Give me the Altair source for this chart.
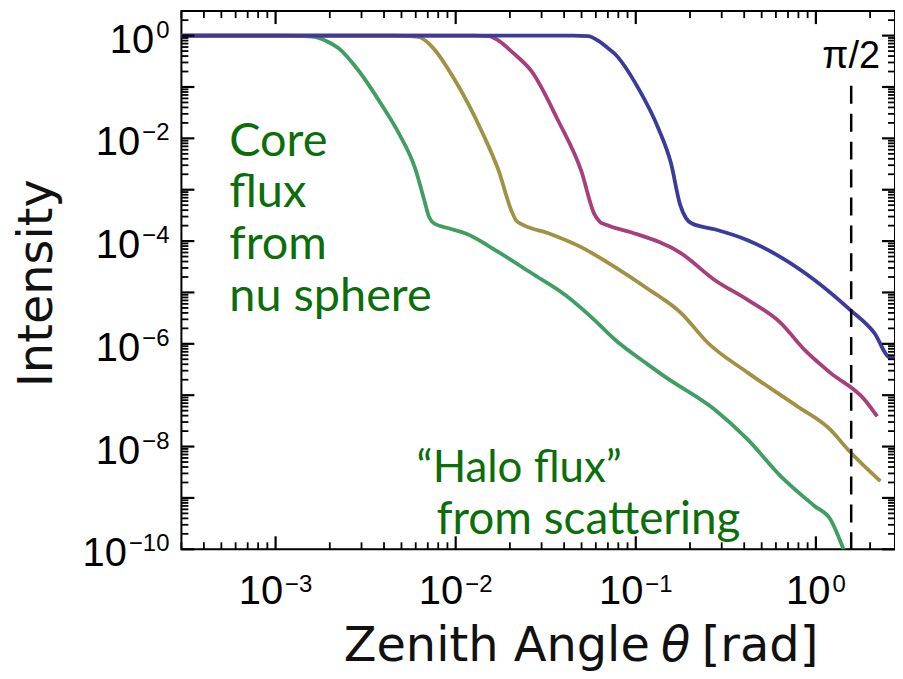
import math
import altair as alt
import pandas as pd

# ---------------- data ----------------
series_names = ["green", "gold", "magenta", "blue"]
series_colors = ["#3f9f63", "#a09243", "#a63f7a", "#3b3b9d"]

green_theta = [3.0e-4, 1.10e-3, 1.35e-3, 1.67e-3, 1.92e-3, 2.24e-3, 2.90e-3, 3.88e-3, 4.82e-3,
               5.98e-3, 6.70e-3, 7.10e-3, 7.60e-3, 9.12e-3, 1.13e-2, 1.73e-2, 2.63e-2, 4.06e-2,
               5.65e-2, 7.67e-2, 0.117, 0.145, 0.274, 0.418, 0.637, 0.982, 1.20, 1.44]
green_I = [1.0, 1.0, 0.99, 0.935, 0.78, 0.57, 0.205, 0.045, 1.28e-2,
           2.5e-3, 6.2e-4, 3.0e-4, 2.2e-4, 1.78e-4, 1.42e-4, 6.1e-5, 2.39e-5, 8.95e-6,
           3.35e-6, 1.20e-6, 3.94e-7, 2.30e-7, 5.28e-8, 1.38e-8, 2.66e-9, 6.97e-10, 3.90e-10, 9.0e-11]

gold_theta = [3.0e-4, 4.6e-3, 5.48e-3, 6.3e-3, 7.35e-3, 9.97e-3, 1.39e-2, 1.73e-2, 2.04e-2,
              2.17e-2, 2.35e-2, 3.27e-2, 4.97e-2, 7.67e-2, 0.117, 0.178, 0.251, 0.418, 0.791,
              1.20, 1.50, 2.28]
gold_I = [1.0, 1.0, 0.98, 0.93, 0.62, 0.131, 1.41e-2, 2.37e-3, 3.9e-4,
          2.5e-4, 2.1e-4, 1.42e-4, 7.62e-5, 3.12e-5, 1.17e-5, 4.01e-6, 1.05e-6, 2.75e-7, 6.04e-8,
          2.16e-8, 8.87e-9, 2.13e-9]

magenta_theta = [3.0e-4, 1.25e-2, 1.53e-2, 1.73e-2, 2.1e-2, 2.63e-2, 3.71e-2, 4.97e-2, 5.90e-2,
                 6.30e-2, 6.90e-2, 9.40e-2, 0.178, 0.274, 0.418, 0.637, 0.863, 1.20, 1.86, 2.19]
magenta_I = [1.0, 1.0, 0.98, 0.80, 0.45, 0.205, 2.20e-2, 2.37e-3, 3.3e-4,
             2.4e-4, 2.05e-4, 1.49e-4, 5.83e-5, 1.75e-5, 7.16e-6, 2.56e-6, 7.69e-7, 2.75e-7,
             8.26e-8, 3.86e-8]

blue_theta = [3.0e-4, 4.5e-2, 5.43e-2, 6.18e-2, 6.8e-2, 7.67e-2, 0.103, 0.133, 0.157,
              0.176, 0.190, 0.205, 0.274, 0.418, 0.637, 0.982, 1.55, 2.11, 2.59, 2.75]
blue_I = [1.0, 1.0, 0.98, 0.80, 0.62, 0.438, 9.61e-2, 1.61e-2, 3.23e-3,
          5.2e-4, 2.8e-4, 2.2e-4, 1.70e-4, 1.04e-4, 4.88e-5, 1.75e-5, 4.58e-6, 1.64e-6,
          5.38e-7, 5.38e-7]

x_label_exps = ["−3", "−2", "−1", "0"]
x_label_vals = [1e-3, 1e-2, 1e-1, 1e0]
y_label_exps = ["0", "−2", "−4", "−6", "−8", "−10"]
y_label_vals = [1e0, 1e-2, 1e-4, 1e-6, 1e-8, 1e-10]

x_major = [1e-3, 1e-2, 1e-1, 1e0]
x_minor = [k * 10.0 ** e for e in range(-4, 1) for k in range(2, 10) if 3e-4 <= k * 10.0 ** e <= 2.75]
y_major = [10.0 ** e for e in range(-10, 1)]
y_minor = [k * 10.0 ** e for e in range(-10, 1) for k in range(2, 10) if k * 10.0 ** e <= 3]

half_pi = math.pi / 2

# ---------------- chart ----------------
W, H = 716, 540
FONT = "Liberation Sans"
TFONT = "DejaVu Sans"
ANN = "Lato"
ANN_COLOR = "#0b6e0b"

rows = []
for name, th, iv in zip(series_names,
                        [green_theta, gold_theta, magenta_theta, blue_theta],
                        [green_I, gold_I, magenta_I, blue_I]):
    for t, v in zip(th, iv):
        rows.append({"series": name, "theta": t, "I": v})
df = pd.DataFrame(rows)

xscale = alt.Scale(type="log", domain=[3e-4, 2.75], nice=False)
yscale = alt.Scale(type="log", domain=[1e-10, 3], nice=False)

lines = alt.Chart(df).mark_line(strokeWidth=3.8, clip=True, interpolate="monotone").encode(
    x=alt.X("theta:Q", scale=xscale, axis=None),
    y=alt.Y("I:Q", scale=yscale, axis=None),
    color=alt.Color("series:N", scale=alt.Scale(domain=series_names, range=series_colors), legend=None),
)


def xticks(vals, y0, y1, sw):
    return alt.Chart(pd.DataFrame({"v": vals})).mark_rule(color="black", strokeWidth=sw).encode(
        x=alt.X("v:Q", scale=xscale, axis=None), y=alt.value(y0), y2=alt.value(y1))


def yticks(vals, x0, x1, sw):
    return alt.Chart(pd.DataFrame({"v": vals})).mark_rule(color="black", strokeWidth=sw).encode(
        y=alt.Y("v:Q", scale=yscale, axis=None), x=alt.value(x0), x2=alt.value(x1))


MAJ, MIN = 13, 7
ticks = [
    xticks(x_major, H, H - MAJ, 2.2), xticks(x_minor, H, H - MIN, 1.8),
    xticks(x_major, 0, MAJ, 2.2), xticks(x_minor, 0, MIN, 1.8),
    yticks(y_major, 0, MAJ, 2.2), yticks(y_minor, 0, MIN, 1.8),
    yticks(y_major, W, W - MAJ, 2.2), yticks(y_minor, W, W - MIN, 1.8),
]

# tick labels "10" + superscript exponent
BASE_FS, EXP_FS = 40, 24
base_w = 0.556 * 2 * BASE_FS


def exp_width(s):
    return sum(0.584 * EXP_FS if ch == "−" else 0.556 * EXP_FS for ch in s)


xl = pd.DataFrame({"v": x_label_vals, "exp": x_label_exps})
xlab_layers = []
for e in sorted(set(x_label_exps)):
    ew = exp_width(e)
    total = base_w + 2 + ew
    dxb = total / 2 - ew - 2
    sub = alt.Chart(xl).transform_filter(alt.datum.exp == e)
    xlab_layers.append(sub.mark_text(text="10", font=FONT, fontSize=BASE_FS, align="right",
                                     baseline="alphabetic", dx=dxb, color="black").encode(
        x=alt.X("v:Q", scale=xscale, axis=None), y=alt.value(H + 55)))
    xlab_layers.append(sub.mark_text(font=FONT, fontSize=EXP_FS, align="left",
                                     baseline="alphabetic", dx=dxb + 2, color="black").encode(
        x=alt.X("v:Q", scale=xscale, axis=None), y=alt.value(H + 43), text="exp:N"))

yl = pd.DataFrame({"v": y_label_vals, "exp": y_label_exps})
ylab_layers = [alt.Chart(yl).mark_text(font=FONT, fontSize=EXP_FS, align="right",
                                       baseline="alphabetic", dy=2, color="black").encode(
    y=alt.Y("v:Q", scale=yscale, axis=None), x=alt.value(-12), text="exp:N")]
for e in sorted(set(y_label_exps)):
    ew = exp_width(e)
    ylab_layers.append(alt.Chart(yl).transform_filter(alt.datum.exp == e).mark_text(
        text="10", font=FONT, fontSize=BASE_FS, align="right", baseline="alphabetic", dy=17,
        color="black").encode(y=alt.Y("v:Q", scale=yscale, axis=None), x=alt.value(-12 - ew - 2)))

one = pd.DataFrame({"a": [0]})
dash = alt.Chart(pd.DataFrame({"v": [half_pi]})).mark_rule(
    color="black", strokeWidth=2.5, strokeDash=[18, 10]).encode(
    x=alt.X("v:Q", scale=xscale, axis=None), y=alt.value(75), y2=alt.value(H))
pi_label = alt.Chart(pd.DataFrame({"v": [half_pi]})).mark_text(
    text="π/2", font=FONT, fontSize=38, align="center", baseline="alphabetic", color="black").encode(
    x=alt.X("v:Q", scale=xscale, axis=None), y=alt.value(57))

TITLE_FS = 48
y_title = alt.Chart(one).mark_text(text="Intensity", font=TFONT, fontSize=TITLE_FS, angle=270,
                                   align="center", baseline="middle", color="#111111").encode(
    x=alt.value(-144), y=alt.value(H / 2 + 3))
x_title_a = alt.Chart(one).mark_text(text="Zenith Angle", font=TFONT, fontSize=TITLE_FS,
                                     align="right", baseline="alphabetic", color="#111111").encode(
    x=alt.value(470), y=alt.value(H + 112))
x_title_b = alt.Chart(one).mark_text(text="θ", font=TFONT, fontSize=TITLE_FS, fontStyle="italic",
                                     align="center", baseline="alphabetic", color="#111111").encode(
    x=alt.value(496), y=alt.value(H + 112))
x_title_c = alt.Chart(one).mark_text(text="[rad]", font=TFONT, fontSize=TITLE_FS,
                                     align="left", baseline="alphabetic", color="#111111").encode(
    x=alt.value(522), y=alt.value(H + 112))

core = alt.Chart(one).mark_text(text="Core\nflux\nfrom\nnu sphere", lineBreak="\n", lineHeight=52,
                                font=ANN, fontSize=47, align="left", baseline="alphabetic",
                                color=ANN_COLOR).encode(x=alt.value(48), y=alt.value(145))
halo1 = alt.Chart(one).mark_text(text="“Halo flux”", font=ANN, fontSize=44, align="left",
                                 baseline="alphabetic", color=ANN_COLOR).encode(
    x=alt.value(236), y=alt.value(472))
halo2 = alt.Chart(one).mark_text(text="from scattering", font=ANN, fontSize=46, align="left",
                                 baseline="alphabetic", color=ANN_COLOR).encode(
    x=alt.value(256), y=alt.value(525))

chart = alt.layer(
    lines, *ticks, dash, pi_label, *xlab_layers, *ylab_layers, y_title,
    x_title_a, x_title_b, x_title_c, core, halo1, halo2
).properties(
    width=W, height=H,
    autosize=alt.AutoSizeParams(type="none"),
    padding={"left": 174, "top": 2, "right": 0, "bottom": 124},
    background="white",
).configure_view(stroke="black", strokeWidth=2)

chart.save("out.html", embed_options={"renderer": "svg", "actions": False})
